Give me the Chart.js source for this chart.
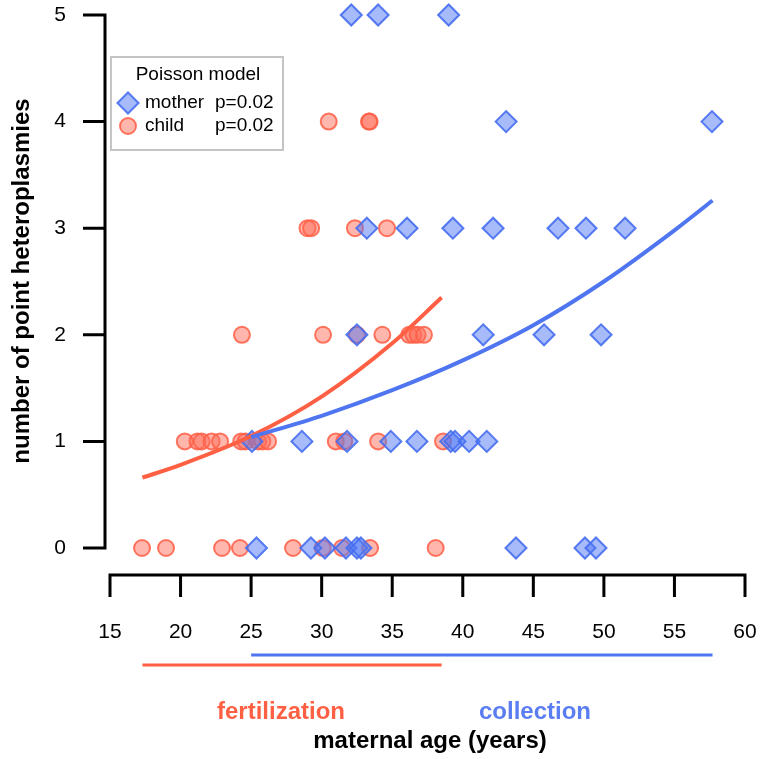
<!DOCTYPE html>
<html><head><meta charset="utf-8">
<script src="https://cdn.jsdelivr.net/npm/chart.js@4"></script>
<style>html,body{margin:0;padding:0;background:#fff}#wrap{width:764px;height:759px;position:relative}</style>
</head><body><div id="wrap"><canvas id="c"></canvas></div>
<script>
const xTicks = [15,20,25,30,35,40,45,50,55,60];
const yTicks = [0,1,2,3,4,5];

const motherAge = [25.38,29.24,30.23,31.72,32.5,32.78,43.77,48.66,49.44,
  25.06,28.6,31.8,34.9,36.75,39.15,39.45,40.45,41.7,
  32.5,41.45,45.76,49.8,
  33.2,36.05,39.3,42.15,46.75,48.73,51.5,
  43.07,57.66,
  32.1,34.0,39.0];
const motherCount = [0,0,0,0,0,0,0,0,0,
  1,1,1,1,1,1,1,1,1,
  2,2,2,2,
  3,3,3,3,3,3,3,
  4,4,
  5,5,5];

const childAge = [17.27,18.97,22.94,24.21,27.97,30.07,31.44,33.43,38.08,
  20.3,21.2,21.5,22.2,22.8,24.3,24.6,25.5,25.8,26.2,31.0,31.6,34.0,38.6,
  24.35,30.1,32.5,34.3,36.2,36.5,36.8,37.25,
  29.0,29.25,32.36,34.63,
  30.5,33.35,33.4];
const childCount = [0,0,0,0,0,0,0,0,0,
  1,1,1,1,1,1,1,1,1,1,1,1,1,1,
  2,2,2,2,2,2,2,2,
  3,3,3,3,
  4,4,4];

const motherFitAge = [25.0,30,35,40,45,50,55,57.7];
const motherFitVal = [1.04,1.24,1.48,1.76,2.09,2.5,2.98,3.26];
const childFitAge = [17.3,20,25,30,35,38.5];
const childFitVal = [0.66,0.78,1.05,1.42,1.92,2.35];

const fertilizationRange = [17.3,38.5];
const collectionRange = [25.0,57.7];

const legendTitle = 'Poisson model';
const legendNames = ['mother','child'];
const legendP = ['p=0.02','p=0.02'];

const BLUE = '#4f76f0', RED = '#ff5f42';
const FONT = '"Liberation Sans", Arial, Helvetica, sans-serif';

const zip = (a,b) => a.map((v,i)=>({x:v,y:b[i]}));

const motherStyle = {pointStyle:'rectRot', radius:10.5, backgroundColor:'rgba(80,120,245,0.5)', borderColor:'rgba(70,110,240,0.9)', borderWidth:2};
const childStyle = {pointStyle:'circle', radius:8, backgroundColor:'rgba(255,110,90,0.5)', borderColor:'rgba(255,95,70,0.85)', borderWidth:2};

const decor = {
  id:'decor',
  afterDraw(chart){
    const ctx = chart.ctx, xs = chart.scales.x, ys = chart.scales.y;
    ctx.save();
    ctx.strokeStyle = '#000'; ctx.lineWidth = 3; ctx.lineCap='butt';
    // y axis
    const ax = 105;
    ctx.beginPath();
    ctx.moveTo(ax, ys.getPixelForValue(yTicks[0])+1.5);
    ctx.lineTo(ax, ys.getPixelForValue(yTicks[yTicks.length-1])-1.5);
    yTicks.forEach(t=>{const p=ys.getPixelForValue(t); ctx.moveTo(ax,p); ctx.lineTo(ax-22,p);});
    ctx.stroke();
    ctx.fillStyle='#000'; ctx.font = '21px '+FONT; ctx.textAlign='center'; ctx.textBaseline='middle';
    yTicks.forEach(t=>ctx.fillText(String(t), 60, ys.getPixelForValue(t)));
    // x axis
    const ay = 575;
    ctx.beginPath();
    ctx.moveTo(xs.getPixelForValue(xTicks[0])-1.5, ay);
    ctx.lineTo(xs.getPixelForValue(xTicks[xTicks.length-1])+1.5, ay);
    xTicks.forEach(t=>{const p=xs.getPixelForValue(t); ctx.moveTo(p,ay); ctx.lineTo(p,ay+22);});
    ctx.stroke();
    xTicks.forEach(t=>ctx.fillText(String(t), xs.getPixelForValue(t), 632));
    // range lines
    ctx.lineWidth = 3;
    ctx.strokeStyle = BLUE; ctx.beginPath();
    ctx.moveTo(xs.getPixelForValue(collectionRange[0]),655); ctx.lineTo(xs.getPixelForValue(collectionRange[1]),655); ctx.stroke();
    ctx.strokeStyle = RED; ctx.beginPath();
    ctx.moveTo(xs.getPixelForValue(fertilizationRange[0]),665); ctx.lineTo(xs.getPixelForValue(fertilizationRange[1]),665); ctx.stroke();
    // labels
    ctx.font = 'bold 24px '+FONT;
    ctx.fillStyle = RED; ctx.fillText('fertilization', 281, 712);
    ctx.fillStyle = '#5a7df2'; ctx.fillText('collection', 535, 712);
    ctx.fillStyle = '#000'; ctx.fillText('maternal age (years)', 430, 741);
    ctx.save(); ctx.translate(22, 281); ctx.rotate(-Math.PI/2);
    ctx.fillText('number of point heteroplasmies', 0, 0); ctx.restore();
    // legend
    ctx.strokeStyle = '#c4c4c4'; ctx.lineWidth = 2;
    ctx.strokeRect(111, 57, 172, 93);
    ctx.fillStyle = '#000'; ctx.font = '19px '+FONT; ctx.textAlign='center';
    ctx.fillText(legendTitle, 198, 75);
    ctx.textAlign='left';
    const rows=[103,126], styles=[motherStyle, childStyle];
    rows.forEach((yy,i)=>{
      const s=styles[i];
      ctx.fillStyle=s.backgroundColor; ctx.strokeStyle=s.borderColor; ctx.lineWidth=s.borderWidth;
      Chart.helpers.drawPoint(ctx,{pointStyle:s.pointStyle, radius:s.radius, borderWidth:s.borderWidth, rotation:0}, 128, yy);
      ctx.fillStyle='#000';
      ctx.fillText(legendNames[i], 145, yy);
      ctx.fillText(legendP[i], 215, yy);
    });
    ctx.restore();
  }
};

new Chart(document.getElementById('c'), {
  type:'scatter',
  data:{datasets:[
    {label:'mother fit', type:'line', data:zip(motherFitAge,motherFitVal), borderColor:BLUE, borderWidth:4, pointRadius:0, fill:false, cubicInterpolationMode:'monotone', order:0, clip:false},
    {label:'child fit', type:'line', data:zip(childFitAge,childFitVal), borderColor:RED, borderWidth:4, pointRadius:0, fill:false, cubicInterpolationMode:'monotone', order:0, clip:false},
    {label:'child', data:zip(childAge,childCount), pointStyle:'circle', pointRadius:childStyle.radius, backgroundColor:childStyle.backgroundColor, borderColor:childStyle.borderColor, borderWidth:2, order:2, clip:false},
    {label:'mother', data:zip(motherAge,motherCount), pointStyle:'rectRot', pointRadius:motherStyle.radius, backgroundColor:motherStyle.backgroundColor, borderColor:motherStyle.borderColor, borderWidth:2, order:1, clip:false}
  ]},
  options:{
    responsive:true, maintainAspectRatio:false, animation:false,
    layout:{padding:{left:110,right:19,top:15,bottom:211}},
    plugins:{legend:{display:false}, tooltip:{enabled:false}},
    scales:{
      x:{type:'linear', min:15, max:60, display:false},
      y:{type:'linear', min:0, max:5, display:false}
    },
    elements:{point:{hoverRadius:0}}
  },
  plugins:[decor]
});
</script></body></html>
